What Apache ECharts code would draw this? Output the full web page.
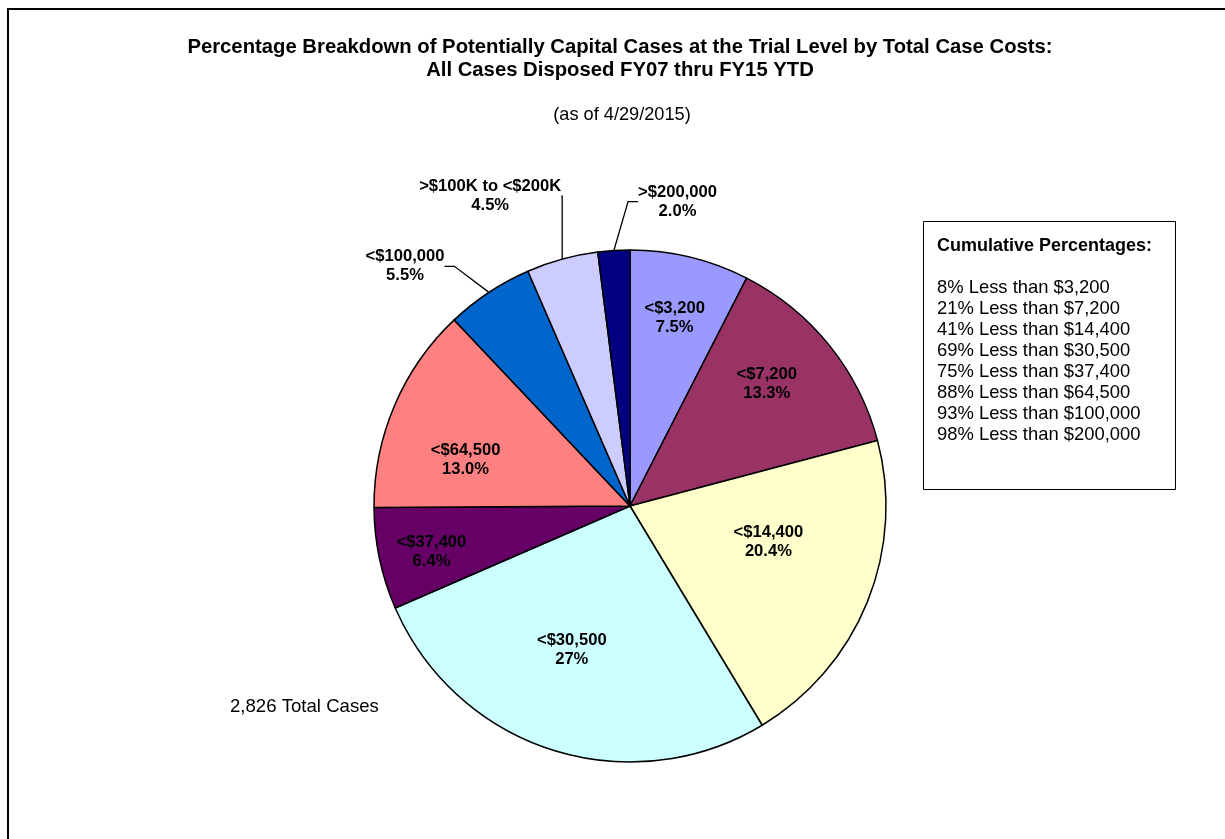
<!DOCTYPE html>
<html>
<head>
<meta charset="utf-8">
<script src="https://cdn.jsdelivr.net/npm/echarts@6/dist/echarts.min.js"></script>
<style>
  html, body { margin: 0; padding: 0; background: #fff; }
  #chart { width: 1225px; height: 839px; }
</style>
</head>
<body>
<div id="chart"></div>
<script>
// cost bands, clockwise from 12 o'clock
const categories = ['<$3,200', '<$7,200', '<$14,400', '<$30,500', '<$37,400', '<$64,500', '<$100,000', '>$100K to <$200K', '>$200,000']
const shares = [7.5, 13.3, 20.4, 27, 6.4, 13.0, 5.5, 4.5, 2.0]
const shareLabels = ['7.5%', '13.3%', '20.4%', '27%', '6.4%', '13.0%', '5.5%', '4.5%', '2.0%']
const sliceColors = ['#9999FF', '#993366', '#FFFFCC', '#CCFFFF', '#660066', '#FF8080', '#0066CC', '#CCCCFF', '#000080']
const cumulativePct = [8, 21, 41, 69, 75, 88, 93, 98]
const cumulativeLimits = ['$3,200', '$7,200', '$14,400', '$30,500', '$37,400', '$64,500', '$100,000', '$200,000']
const totalCases = 2826

const font = '"Liberation Sans", Arial, sans-serif'
const pieCenter = [630, 506]
const pieRadius = 256
// how far out (share of radius) the inside labels sit, plus small nudges
const insideReach = [0.76, 0.70, 0.57, 0.58, 0.79, 0.67]
const insideShift = [[-2, 5], [-6, -7], [0, -20], [-12, -1], [4, 3], [-3, 23]]
// nudges for the three leader-line labels
const outsideShift = { 6: [-13, -1], 7: [22, -34], 8: [120, -19] }

const chart = echarts.init(document.getElementById('chart'))

const pieData = categories.map((name, i) => {
  const outside = i >= insideReach.length
  return {
    name: name,
    value: shares[i],
    itemStyle: { color: sliceColors[i] },
    label: { position: outside ? 'outside' : 'inside' },
    labelLine: { show: outside }
  }
})

const cumulativeLines = cumulativePct.map((p, i) => p + '% Less than ' + cumulativeLimits[i]).join('\n')

chart.setOption({
  animation: false,
  backgroundColor: '#fff',
  title: [
    {
      text: 'Percentage Breakdown of Potentially Capital Cases at the Trial Level by Total Case Costs:\nAll Cases Disposed FY07 thru FY15 YTD',
      left: 615,
      top: 31,
      textAlign: 'center',
      textStyle: { fontFamily: font, fontSize: 20.3, fontWeight: 'bold', color: '#000', lineHeight: 23 }
    },
    {
      text: '(as of 4/29/2015)',
      left: 617,
      top: 101,
      textAlign: 'center',
      textStyle: { fontFamily: font, fontSize: 18.2, fontWeight: 'normal', color: '#000' }
    },
    {
      text: echarts.format.addCommas(totalCases) + ' Total Cases',
      left: 230,
      top: 697,
      padding: 0,
      textStyle: { fontFamily: font, fontSize: 18.6, fontWeight: 'normal', color: '#000' }
    },
    {
      text: 'Cumulative Percentages:',
      subtext: cumulativeLines,
      left: 923,
      top: 221,
      padding: [16, 24, 45, 14],
      itemGap: 22,
      borderColor: '#000',
      borderWidth: 1,
      textStyle: { fontFamily: font, fontSize: 18, fontWeight: 'bold', color: '#000' },
      subtextStyle: { fontFamily: font, fontSize: 18.4, color: '#000', lineHeight: 21 }
    }
  ],
  graphic: [
    {
      type: 'rect',
      shape: { x: 8, y: 9, width: 1400, height: 1000 },
      style: { fill: 'none', stroke: '#000', lineWidth: 2 },
      silent: true
    }
  ],
  series: [
    {
      type: 'pie',
      center: pieCenter,
      radius: pieRadius,
      startAngle: 90,
      clockwise: true,
      avoidLabelOverlap: false,
      itemStyle: { borderColor: '#000', borderWidth: 1.5 },
      label: {
        show: true,
        fontFamily: font,
        fontSize: 16.6,
        fontWeight: 'bold',
        color: '#000',
        lineHeight: 19,
        align: 'center',
        formatter: p => p.name + '\n' + shareLabels[p.dataIndex]
      },
      labelLine: {
        show: true,
        length: 30,
        length2: 10,
        lineStyle: { color: '#000', width: 1.3 }
      },
      labelLayout: function (p) {
        const rect = p.labelRect
        const mx = rect.x + rect.width / 2
        const my = rect.y + rect.height / 2
        const i = p.dataIndex
        if (i < insideReach.length) {
          const k = insideReach[i] / 0.5
          return {
            x: pieCenter[0] + (mx - pieCenter[0]) * k + insideShift[i][0],
            y: pieCenter[1] + (my - pieCenter[1]) * k + insideShift[i][1],
            align: 'center',
            verticalAlign: 'middle'
          }
        }
        const s = outsideShift[i]
        return { x: mx + s[0], y: my + s[1], align: 'center', verticalAlign: 'middle' }
      },
      emphasis: { disabled: true },
      data: pieData
    }
  ]
})
</script>
</body>
</html>
